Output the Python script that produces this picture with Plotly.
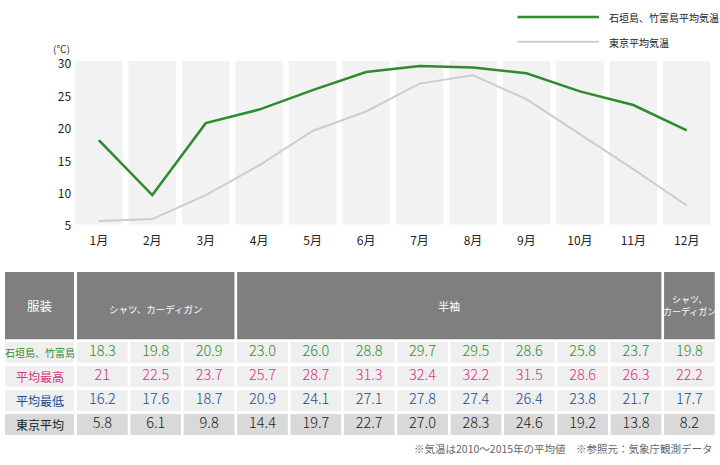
import plotly.graph_objects as go

W, H = 720, 465

# ---------------- data ----------------
months = list(range(1, 13))
month_labels = [f"{m}月" for m in months]
y_ticks = [5, 10, 15, 20, 25, 30]

ishigaki_line = [18.3, 9.8, 20.9, 23.0, 26.0, 28.8, 29.7, 29.5, 28.6, 25.8, 23.7, 19.8]
tokyo_line = [5.8, 6.1, 9.8, 14.4, 19.7, 22.7, 27.0, 28.3, 24.6, 19.2, 13.8, 8.2]

legend_names = ["石垣島、竹富島平均気温", "東京平均気温"]

header_label = "服装"
header_spans = [("シャツ、カーディガン", 1, 3), ("半袖", 4, 11), ("シャツ、<br>カーディガン", 12, 12)]

row_labels = ["石垣島、竹富島", "平均最高", "平均最低", "東京平均"]
ishigaki_avg = ["18.3", "19.8", "20.9", "23.0", "26.0", "28.8", "29.7", "29.5", "28.6", "25.8", "23.7", "19.8"]
avg_high = ["21", "22.5", "23.7", "25.7", "28.7", "31.3", "32.4", "32.2", "31.5", "28.6", "26.3", "22.2"]
avg_low = ["16.2", "17.6", "18.7", "20.9", "24.1", "27.1", "27.8", "27.4", "26.4", "23.8", "21.7", "17.7"]
tokyo_avg = ["5.8", "6.1", "9.8", "14.4", "19.7", "22.7", "27.0", "28.3", "24.6", "19.2", "13.8", "8.2"]
table_rows = [ishigaki_avg, avg_high, avg_low, tokyo_avg]

footnote = "※気温は2010～2015年の平均値　※参照元：気象庁観測データ"

# ---------------- styles ----------------
FONT = "Noto Sans CJK JP"
GREEN = "#2e8b2e"
GRAY_LINE = "#cdcdcd"
BAND = "#f2f2f2"
HEADER_BG = "#7f7f7f"
ROW_BG = ["#efefef", "#efefef", "#efefef", "#d9d9d9"]
ROW_TXT = ["#2e8b2e", "#d6337c", "#1a4b8c", "#1a1a1a"]


def py(px):
    return 1 - px / H


fig = go.Figure()

# ---------------- chart ----------------
fig.add_trace(go.Scatter(x=months, y=tokyo_line, mode="lines",
                         line=dict(color=GRAY_LINE, width=2), hoverinfo="skip",
                         xaxis="x", yaxis="y"))
fig.add_trace(go.Scatter(x=months, y=ishigaki_line, mode="lines",
                         line=dict(color=GREEN, width=2.5), hoverinfo="skip",
                         xaxis="x", yaxis="y"))

PX_PER_UNIT = 6.51
Y5_PX = 226.2
Y_DOM_TOP, Y_DOM_BOT = 55, 232
y_range = [5 - (Y_DOM_BOT - Y5_PX) / PX_PER_UNIT, 5 + (Y5_PX - Y_DOM_TOP) / PX_PER_UNIT]

shapes = []
BAND_HALF = 0.446
for m in months:
    shapes.append(dict(type="rect", xref="x", yref="paper",
                       x0=m - BAND_HALF, x1=m + BAND_HALF, y0=py(224.5), y1=py(60),
                       fillcolor=BAND, line=dict(width=0), layer="below"))

# legend (manual)
legend_colors = [GREEN, GRAY_LINE]
legend_widths = [2.5, 2]
annotations = []
for i, (name, col, lw) in enumerate(zip(legend_names, legend_colors, legend_widths)):
    yy = 16 + i * 25
    shapes.append(dict(type="line", xref="paper", yref="paper",
                       x0=517.5 / W, x1=599 / W, y0=py(yy), y1=py(yy),
                       line=dict(color=col, width=lw)))
    annotations.append(dict(xref="paper", yref="paper", x=607 / W, y=py(yy + 1),
                            text=name, showarrow=False, xanchor="left", yanchor="middle",
                            font=dict(size=10, color="#222", family=FONT)))

annotations.append(dict(xref="paper", yref="paper", x=61 / W, y=py(47.5), text="(℃)",
                        showarrow=False, xanchor="center", yanchor="middle",
                        font=dict(size=10, color="#333", family=FONT)))

# ---------------- table (own axes: column / row units) ----------------
COL_PITCH = 53.37
COL1_PX = 102.35
ROW_PITCH = 24.2
ROW0_PX = 352.8
x2_range = [1 - COL1_PX / COL_PITCH, 1 + (W - COL1_PX) / COL_PITCH]
y2_range = [(H - ROW0_PX) / ROW_PITCH, -ROW0_PX / ROW_PITCH]

CELL_HW = 25.35 / COL_PITCH
CELL_HH = 10.5 / ROW_PITCH
LAB_X0 = 1 + (5 - COL1_PX) / COL_PITCH
LAB_X1 = 1 + (74 - COL1_PX) / COL_PITCH
HDR_C = (305.9 - ROW0_PX) / ROW_PITCH
HDR_HH = 33.85 / ROW_PITCH

# header
shapes.append(dict(type="rect", xref="x2", yref="y2", x0=LAB_X0, x1=LAB_X1,
                   y0=HDR_C - HDR_HH, y1=HDR_C + HDR_HH, fillcolor=HEADER_BG,
                   line=dict(width=0), layer="below"))
annotations.append(dict(xref="x2", yref="y2", x=(LAB_X0 + LAB_X1) / 2, y=HDR_C,
                        text=header_label, showarrow=False,
                        font=dict(size=12.5, color="white", family=FONT)))
hdr_sizes = [9.5, 11, 9]
hdr_dy = [0.13, 0.0, 0.0]
for (txt, c0, c1), fs, dy in zip(header_spans, hdr_sizes, hdr_dy):
    shapes.append(dict(type="rect", xref="x2", yref="y2", x0=c0 - CELL_HW, x1=c1 + CELL_HW,
                       y0=HDR_C - HDR_HH, y1=HDR_C + HDR_HH, fillcolor=HEADER_BG,
                       line=dict(width=0), layer="below"))
    annotations.append(dict(xref="x2", yref="y2", x=(c0 + c1) / 2, y=HDR_C + dy,
                            text=txt, showarrow=False,
                            font=dict(size=fs, color="white", family=FONT)))

# data rows
label_sizes = [10, 12, 12, 12]
for r, (lab, vals) in enumerate(zip(row_labels, table_rows)):
    shapes.append(dict(type="rect", xref="x2", yref="y2", x0=LAB_X0, x1=LAB_X1,
                       y0=r - CELL_HH, y1=r + CELL_HH, fillcolor=ROW_BG[r],
                       line=dict(width=0), layer="below"))
    annotations.append(dict(xref="x2", yref="y2", x=(LAB_X0 + LAB_X1) / 2, y=r,
                            text=lab, showarrow=False,
                            font=dict(size=label_sizes[r], color=ROW_TXT[r], family=FONT)))
    for m in months:
        shapes.append(dict(type="rect", xref="x2", yref="y2", x0=m - CELL_HW, x1=m + CELL_HW,
                           y0=r - CELL_HH, y1=r + CELL_HH, fillcolor=ROW_BG[r],
                           line=dict(width=0), layer="below"))
    fig.add_trace(go.Scatter(x=months, y=[r] * len(months), text=vals, mode="text",
                             textposition="middle center", hoverinfo="skip",
                             textfont=dict(size=14.5, color=ROW_TXT[r], family=FONT, weight=300),
                             xaxis="x2", yaxis="y2"))

annotations.append(dict(xref="paper", yref="paper", x=715 / W, y=py(449), text=footnote,
                        showarrow=False, xanchor="right", yanchor="middle",
                        font=dict(size=10.5, color="#666", family=FONT)))

fig.update_layout(
    width=W, height=H, margin=dict(l=0, r=0, t=0, b=0),
    paper_bgcolor="white", plot_bgcolor="rgba(0,0,0,0)", showlegend=False,
    font=dict(family=FONT, color="#333"),
    xaxis=dict(domain=[72.1 / W, 713.5 / W], range=[0.5, 12.5], tickvals=months,
               ticktext=month_labels, showgrid=False, zeroline=False, showline=False,
               ticks="", tickfont=dict(size=12, color="#222"), anchor="y", fixedrange=True),
    yaxis=dict(domain=[py(Y_DOM_BOT), py(Y_DOM_TOP)], range=y_range, tickvals=y_ticks,
               showgrid=False, zeroline=False, showline=False, ticks="",
               tickfont=dict(size=12, color="#222"), anchor="x", fixedrange=True),
    xaxis2=dict(domain=[0, 1], range=x2_range, visible=False, anchor="y2", fixedrange=True),
    yaxis2=dict(domain=[0, 1], range=y2_range, visible=False, anchor="x2", fixedrange=True),
    shapes=shapes, annotations=annotations,
)

fig.write_html("out.html", config=dict(displayModeBar=False),
               post_script="document.body.style.margin='0';document.body.style.overflow='hidden';")
